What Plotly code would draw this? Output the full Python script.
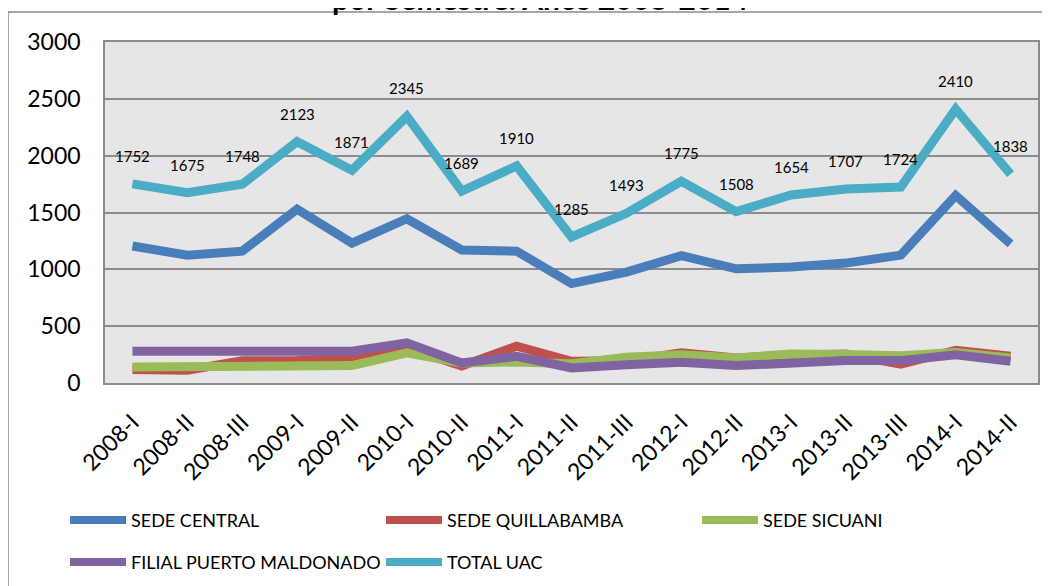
import plotly.graph_objects as go

semestres = ["2008-I", "2008-II", "2008-III", "2009-I", "2009-II", "2010-I", "2010-II",
             "2011-I", "2011-II", "2011-III", "2012-I", "2012-II", "2013-I", "2013-II",
             "2013-III", "2014-I", "2014-II"]
sede_central = [1205, 1125, 1160, 1530, 1230, 1445, 1170, 1160, 875, 975, 1120, 1005, 1020,
                1055, 1125, 1650, 1225]
sede_quillabamba = [118, 112, 195, 197, 221, 310, 150, 324, 191, 195, 265, 221, 245,
                    255, 165, 288, 235]
sede_sicuani = [140, 140, 140, 140, 153, 265, 176, 185, 170, 226, 248, 221, 255,
                250, 240, 268, 221]
filial_pm = [280, 280, 272, 272, 279, 353, 176, 235, 132, 160, 182, 153, 175,
             197, 197, 248, 191]
total_uac = [1752, 1675, 1748, 2123, 1871, 2345, 1689, 1910, 1285, 1493, 1775, 1508, 1654,
             1707, 1724, 2410, 1838]

series_names = ["SEDE CENTRAL", "SEDE QUILLABAMBA", "SEDE SICUANI",
                "FILIAL PUERTO MALDONADO", "TOTAL UAC"]
series_values = [sede_central, sede_quillabamba, sede_sicuani, filial_pm, total_uac]
series_colors = ["#4a7ebb", "#c0504d", "#9bbb59", "#8064a2", "#4bacc6"]

FONT = "Lato, 'Open Sans', sans-serif"

fig = go.Figure()
for name, vals, col in zip(series_names, series_values, series_colors):
    fig.add_trace(go.Scatter(x=semestres, y=vals, mode="lines", name=name,
                             line=dict(color=col, width=9), showlegend=False))

# data labels for the total
for s, v in zip(semestres, total_uac):
    fig.add_annotation(x=s, y=v, text=str(v), showarrow=False, yshift=28,
                       font=dict(family=FONT, size=15, color="#000000"))

# page geometry helpers (layout only); the page has an 8px body margin
W, H = 1050, 586
OFF = 8
ML, MR, MT, MB = 97, 20, 34, 211
PW, PH = W - ML - MR, H - MT - MB


def px(xpage):
    return (xpage - OFF - ML) / PW


def py(ypage):
    return (H - MB - (ypage - OFF)) / PH


# chart frame
fig.add_shape(type="rect", xref="paper", yref="paper", x0=px(8), x1=px(1075),
              y0=py(620), y1=py(12), line=dict(color="#8a8a8a", width=1.5),
              fillcolor="rgba(0,0,0,0)", layer="below")

# cut-off title
fig.add_annotation(xref="paper", yref="paper", x=px(540), y=py(-2), yanchor="middle",
                   text="<b>por Semestre. Años 2008-2014</b>", showarrow=False,
                   font=dict(family=FONT, size=30, color="#000000"))

# legend (custom, 3 columns)
for i, (name, col) in enumerate(zip(series_names, series_colors)):
    c, r = i % 3, i // 3
    x0 = 70 + c * 316
    y0 = 520 + r * 42
    fig.add_shape(type="line", xref="paper", yref="paper", x0=px(x0), x1=px(x0 + 56),
                  y0=py(y0), y1=py(y0), line=dict(color=col, width=8))
    fig.add_annotation(xref="paper", yref="paper", x=px(x0 + 59), y=py(y0),
                       xanchor="left", yanchor="middle", text=name, showarrow=False,
                       font=dict(family=FONT, size=18, color="#000000"))

fig.update_layout(
    width=W, height=H,
    margin=dict(l=ML, r=MR, t=MT, b=MB),
    paper_bgcolor="#ffffff",
    plot_bgcolor="#e6e6e6",
    font=dict(family=FONT, color="#000000"),
    showlegend=False,
)
fig.update_xaxes(type="category", range=[-0.5, len(semestres) - 0.5], tickangle=-45,
                 showgrid=False, showline=True, linecolor="#8c8c8c", linewidth=1.5,
                 mirror=True, ticks="", tickfont=dict(family=FONT, size=23),
                 ticklabelstandoff=15)
fig.update_yaxes(range=[0, 3000], dtick=500, showgrid=True, gridcolor="#8c8c8c",
                 gridwidth=1.5, showline=True, linecolor="#8c8c8c", linewidth=1.5,
                 mirror=True, ticks="", tickfont=dict(family=FONT, size=23),
                 ticklabelstandoff=18, zeroline=False)

fig.write_html("out.html")
